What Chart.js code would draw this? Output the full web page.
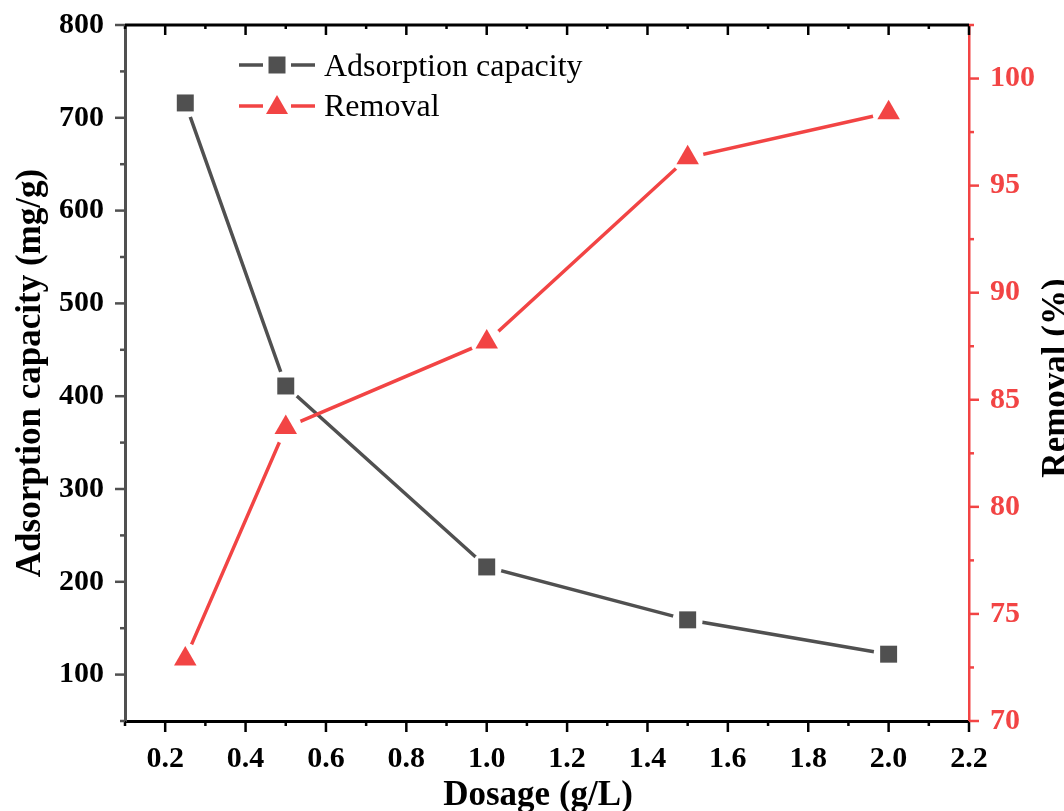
<!DOCTYPE html>
<html>
<head>
<meta charset="utf-8">
<script src="https://cdn.jsdelivr.net/npm/chart.js@4"></script>
<style>
  body { margin: 0; background: #fff; }
</style>
</head>
<body>
<canvas id="chart" width="1064" height="811"></canvas>
<script>
const dosage = [0.25, 0.5, 1.0, 1.5, 2.0];
const capacity = [716, 411, 216, 159, 122];
const removal = [72.9, 83.7, 87.7, 96.3, 98.4];

const xTicks = [0.2, 0.4, 0.6, 0.8, 1.0, 1.2, 1.4, 1.6, 1.8, 2.0, 2.2];
const xMinor = [0.1, 0.3, 0.5, 0.7, 0.9, 1.1, 1.3, 1.5, 1.7, 1.9, 2.1];
const capTicks = [100, 200, 300, 400, 500, 600, 700, 800];
const capMinor = [50, 150, 250, 350, 450, 550, 650, 750];
const remTicks = [70, 75, 80, 85, 90, 95, 100];
const remMinor = [72.5, 77.5, 82.5, 87.5, 92.5, 97.5, 102.5];

const GREY = '#505050';
const RED = '#f24444';
const FONT = "'Liberation Serif', 'Times New Roman', serif";

const toPoints = (ys) => dosage.map((x, i) => ({x, y: ys[i]}));

// white gap round each marker, like the original plot
const gapPlugin = {
  id: 'gaps',
  afterDatasetDraw(chart, args) {
    const ctx = chart.ctx;
    args.meta.data.forEach((pt) => {
      ctx.save();
      ctx.fillStyle = '#fff';
      ctx.beginPath();
      ctx.arc(pt.x, pt.y, pt.options.radius + 3, 0, Math.PI * 2);
      ctx.fill();
      ctx.restore();
      ctx.save();
      pt.draw(ctx, chart.chartArea);
      ctx.restore();
    });
  }
};

const tickLines = (ctx, color, list) => {
  ctx.strokeStyle = color;
  ctx.lineWidth = 2.5;
  list.forEach(([x1, y1, x2, y2]) => {
    ctx.beginPath();
    ctx.moveTo(x1, y1);
    ctx.lineTo(x2, y2);
    ctx.stroke();
  });
};

const framePlugin = {
  id: 'frame',
  afterDraw(chart) {
    const ctx = chart.ctx;
    const a = chart.chartArea;
    const sx = chart.scales.x, sy = chart.scales.y, sr = chart.scales.y1;
    ctx.save();

    // top border
    ctx.strokeStyle = '#000';
    ctx.lineWidth = 3;
    ctx.beginPath();
    ctx.moveTo(a.left, a.top);
    ctx.lineTo(a.right, a.top);
    ctx.stroke();

    const segs = [];
    xTicks.forEach((v) => {
      const p = sx.getPixelForValue(v);
      segs.push([p, a.bottom, p, a.bottom + 11]);
      segs.push([p, a.top, p, a.top + 10]);
    });
    xMinor.forEach((v) => {
      const p = sx.getPixelForValue(v);
      segs.push([p, a.bottom, p, a.bottom + 5]);
      segs.push([p, a.top, p, a.top + 4]);
    });
    tickLines(ctx, '#000', segs);

    const left = [];
    capTicks.forEach((v) => { const p = sy.getPixelForValue(v); left.push([a.left - 10, p, a.left, p]); });
    capMinor.forEach((v) => { const p = sy.getPixelForValue(v); left.push([a.left - 5, p, a.left, p]); });
    tickLines(ctx, GREY, left);

    const right = [];
    remTicks.forEach((v) => { const p = sr.getPixelForValue(v); right.push([a.right, p, a.right + 10, p]); });
    remMinor.forEach((v) => { const p = sr.getPixelForValue(v); right.push([a.right, p, a.right + 5, p]); });
    tickLines(ctx, RED, right);

    // axis titles
    ctx.fillStyle = '#000';
    ctx.font = `bold 35px ${FONT}`;
    ctx.textAlign = 'center';
    ctx.textBaseline = 'alphabetic';
    ctx.fillText('Dosage (g/L)', 538, 805);
    ctx.save();
    ctx.translate(40, 373);
    ctx.rotate(-Math.PI / 2);
    ctx.fillText('Adsorption capacity (mg/g)', 0, 0);
    ctx.restore();
    ctx.save();
    ctx.translate(1066, 378);
    ctx.rotate(-Math.PI / 2);
    ctx.fillText('Removal (%)', 0, 0);
    ctx.restore();

    // legend
    const rows = [
      {ds: chart.data.datasets[0], y: 65, base: 76},
      {ds: chart.data.datasets[1], y: 106, base: 116}
    ];
    rows.forEach(({ds, y, base}) => {
      const cx = 277;
      ctx.strokeStyle = ds.borderColor;
      ctx.lineWidth = 3.5;
      ctx.beginPath();
      ctx.moveTo(239, y); ctx.lineTo(263, y);
      ctx.moveTo(291, y); ctx.lineTo(315, y);
      ctx.stroke();
      ctx.fillStyle = ds.backgroundColor;
      ctx.beginPath();
      if (ds.pointStyle === 'rect') {
        ctx.rect(cx - 8.5, y - 8.5, 17, 17);
      } else {
        ctx.moveTo(cx, y - 11);
        ctx.lineTo(cx + 11, y + 8);
        ctx.lineTo(cx - 11, y + 8);
        ctx.closePath();
      }
      ctx.fill();
      ctx.fillStyle = '#000';
      ctx.font = `32px ${FONT}`;
      ctx.textAlign = 'left';
      ctx.fillText(ds.label, 324, base);
    });

    ctx.restore();
  }
};

const tickFont = {family: FONT, size: 30, weight: 'bold'};
const noVPad = (s) => { s.paddingTop = 0; s.paddingBottom = 0; };

new Chart(document.getElementById('chart').getContext('2d'), {
  type: 'line',
  data: {
    datasets: [
      {
        label: 'Adsorption capacity',
        data: toPoints(capacity),
        yAxisID: 'y',
        borderColor: GREY,
        backgroundColor: GREY,
        borderWidth: 3.5,
        pointStyle: 'rect',
        pointRadius: 12,
        pointBorderWidth: 0,
        order: 1
      },
      {
        label: 'Removal',
        data: toPoints(removal),
        yAxisID: 'y1',
        borderColor: RED,
        backgroundColor: RED,
        borderWidth: 3.5,
        pointStyle: 'triangle',
        pointRadius: 13,
        pointBorderWidth: 0,
        order: 0
      }
    ]
  },
  options: {
    responsive: false,
    animation: false,
    layout: {padding: {top: 25, left: 0, right: 0, bottom: 0}},
    plugins: {
      legend: {display: false},
      tooltip: {enabled: false}
    },
    scales: {
      x: {
        type: 'linear',
        position: 'bottom',
        min: 0.1,
        max: 2.2,
        afterBuildTicks: (s) => { s.ticks = xTicks.map((value) => ({value})); },
        afterFit: (s) => { s.height = 90; s.paddingLeft = 0; s.paddingRight = 0; },
        grid: {display: false, drawTicks: false},
        border: {display: true, color: '#000', width: 3},
        ticks: {
          font: tickFont,
          color: '#000',
          padding: 20,
          maxRotation: 0,
          callback: (v) => Number(v).toFixed(1)
        }
      },
      y: {
        type: 'linear',
        position: 'left',
        min: 50,
        max: 800,
        afterBuildTicks: (s) => { s.ticks = capTicks.map((value) => ({value})); },
        afterFit: (s) => { s.width = 125; noVPad(s); },
        grid: {display: false, drawTicks: false},
        border: {display: true, color: GREY, width: 3},
        ticks: {font: tickFont, color: '#000', padding: 21}
      },
      y1: {
        type: 'linear',
        position: 'right',
        min: 70,
        max: 102.5,
        afterBuildTicks: (s) => { s.ticks = remTicks.map((value) => ({value})); },
        afterFit: (s) => { s.width = 95; noVPad(s); },
        grid: {display: false, drawTicks: false},
        border: {display: true, color: RED, width: 2.5},
        ticks: {font: tickFont, color: RED, padding: 21}
      }
    }
  },
  plugins: [gapPlugin, framePlugin]
});
</script>
</body>
</html>
